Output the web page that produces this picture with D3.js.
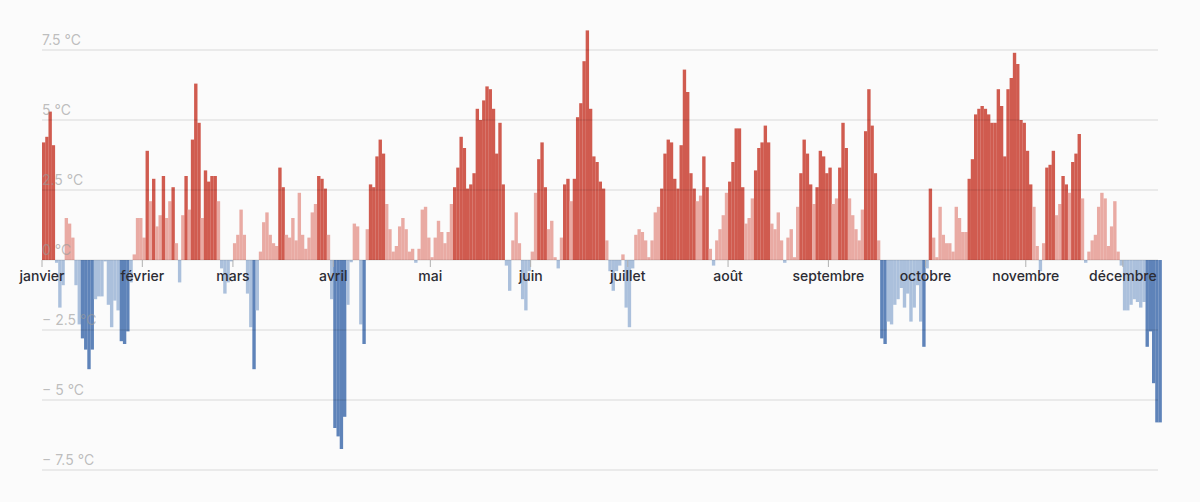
<!DOCTYPE html>
<html lang="fr">
<head>
<meta charset="utf-8">
<script src="https://cdn.jsdelivr.net/npm/d3@7"></script>
<style>
  html, body { margin: 0; padding: 0; background: #fbfbfb; }
  svg { display: block; font-family: Inter, "Noto Sans", sans-serif; }
</style>
</head>
<body>
<svg id="chart" width="1200" height="502"></svg>
<script>
// écart à la normale, un chiffre par jour depuis le 1er janvier
const startDay = '2022-01-01';

const anomalies = [
    4.2, 4.4, 5.3, 4.1, -0.1, -1.7, -0.9, 1.5, 1.3, 0.8,
    -0.9, -2.3, -2.8, -3.2, -3.9, -3.2, -1.4, -1.3, -1.3, -0.05,
    -1.6, -2.4, -1.45, -1.8, -2.9, -3.0, -2.55, -0.8, 0.2, 1.5,
    1.5, 0.8, 3.9, 2.1, 2.9, 1.2, 1.6, 3.0, 1.5, 2.1,
    2.6, 0.6, -0.8, 1.6, 3.0, 1.8, 4.3, 6.3, 4.9, 1.5,
    3.2, 2.8, 3.0, 3.0, 2.1, -0.3, -1.2, -0.8, -0.05, 0.6,
    0.9, 1.8, 0.9, -1.2, -2.4, -3.9, -1.8, 0.3, 1.35, 1.7,
    0.9, 0.6, 0.5, 3.3, 2.6, 0.9, 0.8, 1.5, 0.7, 2.4,
    0.9, 0.4, 0.8, 1.7, 2.0, 3.0, 2.9, 2.55, 0.9, -1.4,
    -6.0, -6.3, -6.75, -5.6, -1.6, -0.08, 1.3, 1.2, -2.3, -3.0,
    1.1, 2.7, 2.6, 3.7, 4.3, 3.8, 2.0, 1.1, 0.3, 0.5,
    1.2, 1.5, 1.1, 0.3, 0.4, -0.1, 0.4, 1.8, 1.9, 0.8,
    0.1, 0.8, 1.4, 1.0, 0.6, 1.0, 2.0, 2.6, 3.3, 4.4,
    4.0, 2.55, 2.7, 3.1, 5.4, 5.0, 5.7, 6.2, 6.1, 5.4,
    3.8, 4.9, 2.7, -0.2, -1.1, 0.7, 1.7, 0.6, -1.4, -1.8,
    -0.4, 0.3, 2.4, 3.6, 4.2, 2.6, 1.1, 1.4, 0.1, -0.3,
    0.8, 2.7, 2.9, 2.1, 2.9, 5.1, 5.6, 7.1, 8.2, 5.4,
    3.7, 3.5, 2.8, 2.55, 0.7, -0.4, -1.1, -0.4, -0.2, 0.2,
    -1.7, -2.4, -0.3, 0.9, 1.1, 1.0, 0.7, 0.1, 0.7, 1.7,
    1.9, 2.55, 3.8, 4.3, 4.2, 2.9, 2.55, 4.1, 6.8, 6.0,
    3.1, 2.55, 2.1, 2.3, 3.7, 2.6, 0.4, -0.2, 0.7, 1.1,
    1.6, 2.4, 2.8, 3.5, 4.7, 4.7, 2.6, 1.3, 1.5, 2.2,
    3.2, 4.0, 4.2, 4.8, 4.2, 1.3, 1.1, 1.7, 0.7, -0.1,
    0.8, 1.1, 0.1, 1.9, 3.1, 4.3, 3.8, 2.7, 2.0, 2.6,
    3.9, 3.7, 3.1, 3.3, 2.0, 2.2, 3.3, 4.9, 4.0, 2.2,
    1.6, 1.1, 0.7, 1.8, 4.6, 6.1, 4.8, 3.1, 0.7, -2.8,
    -3.0, -2.2, -2.3, -1.6, -1.4, -1.0, -1.7, -1.2, -2.2, -1.7,
    -0.9, -2.2, -3.1, -0.3, 2.55, 0.8, 0.1, 1.9, 0.9, 0.6,
    0.6, 0.3, 1.9, 1.5, 1.0, 1.0, 2.9, 3.6, 5.2, 5.4,
    5.5, 5.4, 5.2, 4.9, 4.9, 6.1, 5.5, 3.7, 6.1, 6.5,
    7.4, 7.0, 5.0, 4.9, 3.9, 2.7, 1.9, 0.5, -0.4, 0.6,
    3.3, 3.4, 3.9, 1.6, 2.0, 3.0, 2.7, 2.4, 3.5, 3.8,
    4.5, 2.2, -0.1, 0.3, 0.7, 0.9, 1.9, 2.4, 2.2, 0.5,
    1.2, 2.1, 0.3, -0.2, -1.8, -1.8, -1.6, -1.4, -1.5, -1.7,
    -1.5, -3.1, -2.55, -4.4, -5.8, -5.8
];

const monthNames = ['janvier', 'février', 'mars', 'avril', 'mai', 'juin',
    'juillet', 'août', 'septembre', 'octobre', 'novembre', 'décembre'];

const yTicks = [7.5, 5, 2.5, 0, -2.5, -5, -7.5];
const yTickLabels = ['7.5 °C', '5 °C', '2.5 °C', '0 °C', '− 2.5 °C', '− 5 °C', '− 7.5 °C'];

const colors = ['#5e83b9', '#abc0dc', '#e9aaa3', '#d05b4f'];

const svg = d3.select('#chart');

const t0 = d3.timeParse('%Y-%m-%d')(startDay);
const tEnd = d3.timeDay.offset(t0, anomalies.length);
const data = anomalies.map((v, i) => ({ date: d3.timeDay.offset(t0, i), value: v }));

const xScale = d3.scaleTime()
    .domain([t0, tEnd])
    .range([42, 1161.7]);

const yScale = d3.scaleLinear()
    .domain([-7.5, 7.5])
    .range([470, 50]);

// au-delà de 2.5 °C d'écart, teinte foncée
const fillScale = d3.scaleThreshold()
    .domain([-2.5, 0, 2.5])
    .range(colors);

svg.append('g')
    .selectAll('rect')
    .data(data)
    .join('rect')
    .attr('x', d => xScale(d.date))
    .attr('width', d => xScale(d3.timeDay.offset(d.date, 1)) - xScale(d.date) + 0.15)
    .attr('y', d => yScale(Math.max(0, d.value)))
    .attr('height', d => Math.abs(yScale(d.value) - yScale(0)))
    .attr('fill', d => fillScale(d.value));

// grille
svg.append('g')
    .selectAll('line')
    .data(yTicks)
    .join('line')
    .attr('x1', 42)
    .attr('x2', 1158)
    .attr('y1', d => yScale(d))
    .attr('y2', d => yScale(d))
    .attr('stroke', 'rgba(0,0,0,0.09)')
    .attr('stroke-width', 1.5);

svg.append('g')
    .selectAll('text')
    .data(yTicks)
    .join('text')
    .attr('x', 42)
    .attr('y', d => yScale(d) - 5)
    .attr('font-size', 14)
    .attr('fill', '#9a9a9a')
    .attr('fill-opacity', 0.65)
    .text((d, i) => yTickLabels[i]);

// mois
const months = d3.timeMonth.range(t0, d3.timeDay.offset(tEnd, 1));

svg.append('g')
    .selectAll('line')
    .data(months)
    .join('line')
    .attr('x1', d => xScale(d))
    .attr('x2', d => xScale(d))
    .attr('y1', yScale(0))
    .attr('y2', yScale(0) + 7)
    .attr('stroke', '#b0b0b0')
    .attr('stroke-width', 1);

svg.append('g')
    .selectAll('text')
    .data(months)
    .join('text')
    .attr('x', d => xScale(d))
    .attr('y', yScale(0) + 21)
    .attr('text-anchor', 'middle')
    .attr('font-size', 14)
    .attr('font-weight', 500)
    .attr('fill', '#2c2c34')
    .text(d => monthNames[d.getMonth()]);
</script>
</body>
</html>
